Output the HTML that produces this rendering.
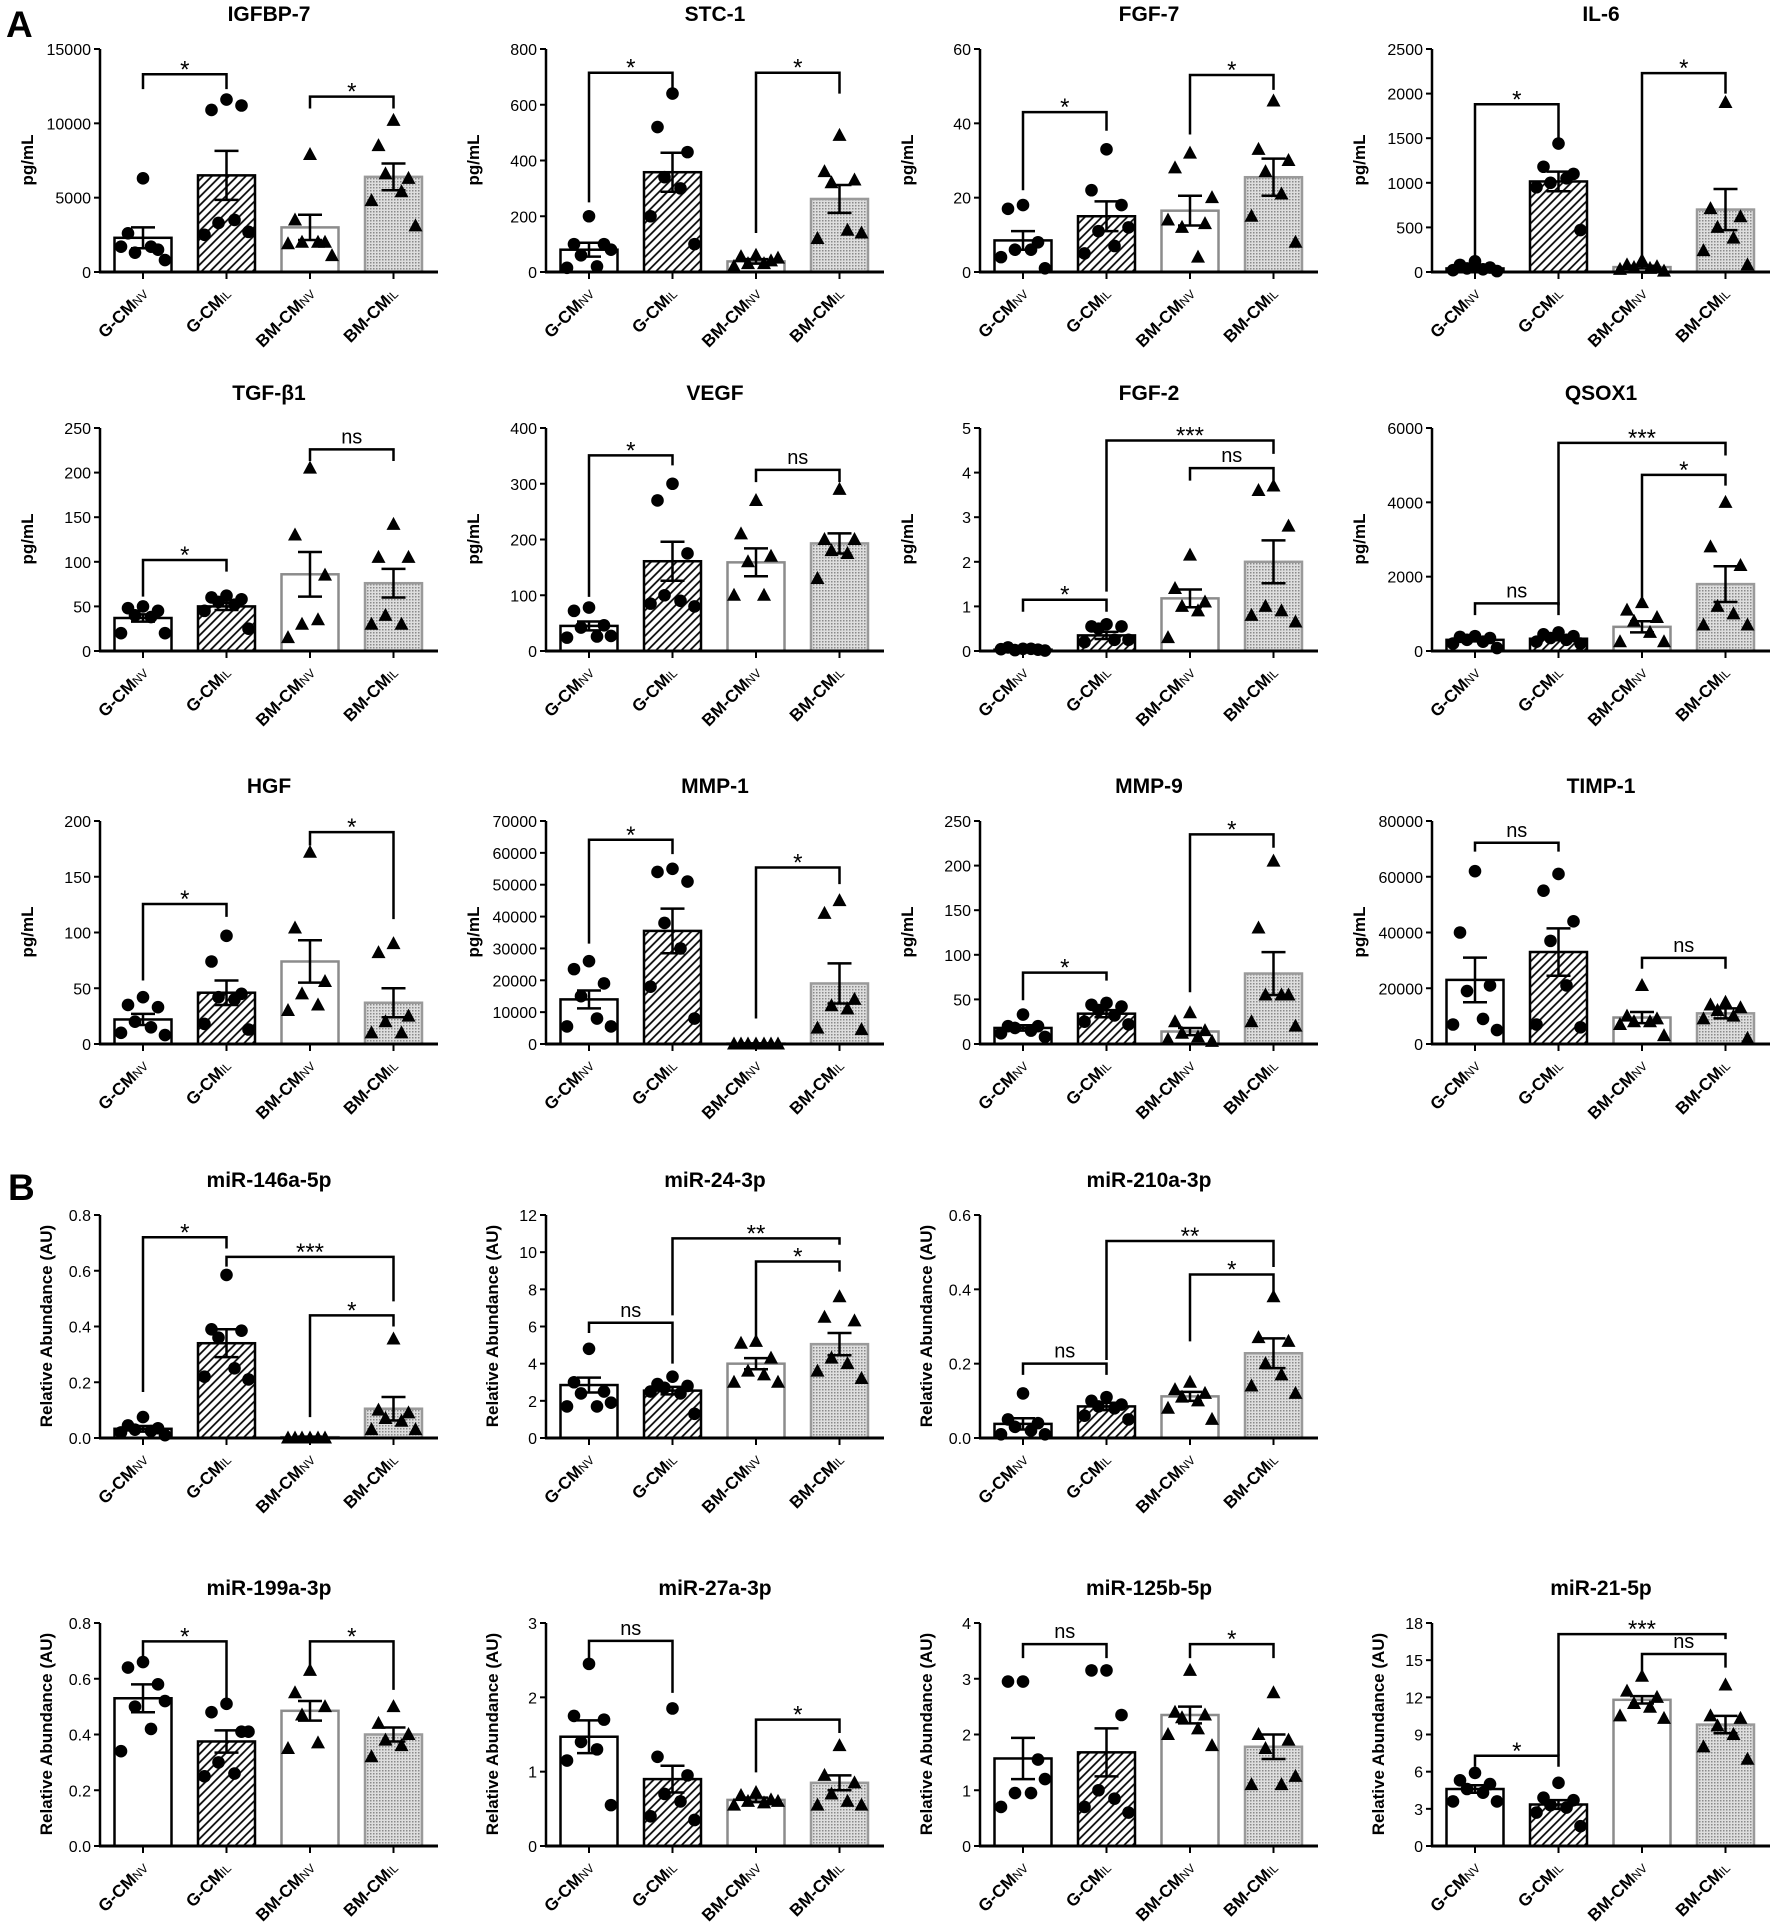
<!DOCTYPE html>
<html><head><meta charset="utf-8">
<style>
html,body{margin:0;padding:0;background:#fff}
svg{display:block}
text{font-family:"Liberation Sans",Arial,sans-serif;fill:#000}
.ti{font-weight:bold;font-size:21px;text-anchor:middle}
.yl{font-weight:bold;font-size:17px;text-anchor:middle}
.tk{font-size:16px;text-anchor:end}
.xl{font-weight:bold;font-size:17px;text-anchor:end}
.sb{font-weight:normal;font-size:12px}
.bl{font-size:24px;text-anchor:middle}
.bn{font-size:20px}
.big{font-weight:bold;font-size:37px}
</style></head>
<body>
<svg width="1772" height="1928" viewBox="0 0 1772 1928" xmlns="http://www.w3.org/2000/svg">
<defs>
<pattern id="hatch" width="6" height="6" patternUnits="userSpaceOnUse" patternTransform="rotate(45)"><rect width="6" height="6" fill="#fff"/><line x1="1" y1="0" x2="1" y2="6" stroke="#000" stroke-width="1.7"/></pattern>
<pattern id="dots" width="3" height="3" patternUnits="userSpaceOnUse"><rect width="3" height="3" fill="#dedede"/><rect width="1.5" height="1.5" fill="#8a8a8a"/></pattern>
</defs>
<text class="big" x="6" y="37">A</text>
<text class="big" x="8" y="1200">B</text>

<g id="p0" transform="translate(100,49)"><g class="sh"></g>
<text class="ti" x="169" y="-28">IGFBP-7</text>
<text class="yl" transform="translate(-67,111) rotate(-90)">pg/mL</text>
<text class="tk">0</text><text class="tk">5000</text><text class="tk">10000</text><text class="tk">15000</text>
<text class="xl" transform="translate(49,246) rotate(-45)">G-CM<tspan class="sb">NV</tspan></text>
<text class="xl" transform="translate(132,246) rotate(-45)">G-CM<tspan class="sb">IL</tspan></text>
<text class="xl" transform="translate(216,246) rotate(-45)">BM-CM<tspan class="sb">NV</tspan></text>
<text class="xl" transform="translate(299,246) rotate(-45)">BM-CM<tspan class="sb">IL</tspan></text>
<text class="bl">*</text><text class="bl">*</text></g>

<g id="p1" transform="translate(546,49)"><g class="sh"></g>
<text class="ti" x="169" y="-28">STC-1</text>
<text class="yl" transform="translate(-67,111) rotate(-90)">pg/mL</text>
<text class="tk">0</text><text class="tk">200</text><text class="tk">400</text><text class="tk">600</text><text class="tk">800</text>
<text class="xl" transform="translate(49,246) rotate(-45)">G-CM<tspan class="sb">NV</tspan></text>
<text class="xl" transform="translate(132,246) rotate(-45)">G-CM<tspan class="sb">IL</tspan></text>
<text class="xl" transform="translate(216,246) rotate(-45)">BM-CM<tspan class="sb">NV</tspan></text>
<text class="xl" transform="translate(299,246) rotate(-45)">BM-CM<tspan class="sb">IL</tspan></text>
<text class="bl">*</text><text class="bl">*</text></g>

<g id="p2" transform="translate(980,49)"><g class="sh"></g>
<text class="ti" x="169" y="-28">FGF-7</text>
<text class="yl" transform="translate(-67,111) rotate(-90)">pg/mL</text>
<text class="tk">0</text><text class="tk">20</text><text class="tk">40</text><text class="tk">60</text>
<text class="xl" transform="translate(49,246) rotate(-45)">G-CM<tspan class="sb">NV</tspan></text>
<text class="xl" transform="translate(132,246) rotate(-45)">G-CM<tspan class="sb">IL</tspan></text>
<text class="xl" transform="translate(216,246) rotate(-45)">BM-CM<tspan class="sb">NV</tspan></text>
<text class="xl" transform="translate(299,246) rotate(-45)">BM-CM<tspan class="sb">IL</tspan></text>
<text class="bl">*</text><text class="bl">*</text></g>

<g id="p3" transform="translate(1432,49)"><g class="sh"></g>
<text class="ti" x="169" y="-28">IL-6</text>
<text class="yl" transform="translate(-67,111) rotate(-90)">pg/mL</text>
<text class="tk">0</text><text class="tk">500</text><text class="tk">1000</text><text class="tk">1500</text><text class="tk">2000</text><text class="tk">2500</text>
<text class="xl" transform="translate(49,246) rotate(-45)">G-CM<tspan class="sb">NV</tspan></text>
<text class="xl" transform="translate(132,246) rotate(-45)">G-CM<tspan class="sb">IL</tspan></text>
<text class="xl" transform="translate(216,246) rotate(-45)">BM-CM<tspan class="sb">NV</tspan></text>
<text class="xl" transform="translate(299,246) rotate(-45)">BM-CM<tspan class="sb">IL</tspan></text>
<text class="bl">*</text><text class="bl">*</text></g>

<g id="p4" transform="translate(100,428)"><g class="sh"></g>
<text class="ti" x="169" y="-28">TGF-β1</text>
<text class="yl" transform="translate(-67,111) rotate(-90)">pg/mL</text>
<text class="tk">0</text><text class="tk">50</text><text class="tk">100</text><text class="tk">150</text><text class="tk">200</text><text class="tk">250</text>
<text class="xl" transform="translate(49,246) rotate(-45)">G-CM<tspan class="sb">NV</tspan></text>
<text class="xl" transform="translate(132,246) rotate(-45)">G-CM<tspan class="sb">IL</tspan></text>
<text class="xl" transform="translate(216,246) rotate(-45)">BM-CM<tspan class="sb">NV</tspan></text>
<text class="xl" transform="translate(299,246) rotate(-45)">BM-CM<tspan class="sb">IL</tspan></text>
<text class="bl">*</text><text class="bl bn">ns</text></g>

<g id="p5" transform="translate(546,428)"><g class="sh"></g>
<text class="ti" x="169" y="-28">VEGF</text>
<text class="yl" transform="translate(-67,111) rotate(-90)">pg/mL</text>
<text class="tk">0</text><text class="tk">100</text><text class="tk">200</text><text class="tk">300</text><text class="tk">400</text>
<text class="xl" transform="translate(49,246) rotate(-45)">G-CM<tspan class="sb">NV</tspan></text>
<text class="xl" transform="translate(132,246) rotate(-45)">G-CM<tspan class="sb">IL</tspan></text>
<text class="xl" transform="translate(216,246) rotate(-45)">BM-CM<tspan class="sb">NV</tspan></text>
<text class="xl" transform="translate(299,246) rotate(-45)">BM-CM<tspan class="sb">IL</tspan></text>
<text class="bl">*</text><text class="bl bn">ns</text></g>

<g id="p6" transform="translate(980,428)"><g class="sh"></g>
<text class="ti" x="169" y="-28">FGF-2</text>
<text class="yl" transform="translate(-67,111) rotate(-90)">pg/mL</text>
<text class="tk">0</text><text class="tk">1</text><text class="tk">2</text><text class="tk">3</text><text class="tk">4</text><text class="tk">5</text>
<text class="xl" transform="translate(49,246) rotate(-45)">G-CM<tspan class="sb">NV</tspan></text>
<text class="xl" transform="translate(132,246) rotate(-45)">G-CM<tspan class="sb">IL</tspan></text>
<text class="xl" transform="translate(216,246) rotate(-45)">BM-CM<tspan class="sb">NV</tspan></text>
<text class="xl" transform="translate(299,246) rotate(-45)">BM-CM<tspan class="sb">IL</tspan></text>
<text class="bl">*</text><text class="bl">***</text><text class="bl bn">ns</text></g>

<g id="p7" transform="translate(1432,428)"><g class="sh"></g>
<text class="ti" x="169" y="-28">QSOX1</text>
<text class="yl" transform="translate(-67,111) rotate(-90)">pg/mL</text>
<text class="tk">0</text><text class="tk">2000</text><text class="tk">4000</text><text class="tk">6000</text>
<text class="xl" transform="translate(49,246) rotate(-45)">G-CM<tspan class="sb">NV</tspan></text>
<text class="xl" transform="translate(132,246) rotate(-45)">G-CM<tspan class="sb">IL</tspan></text>
<text class="xl" transform="translate(216,246) rotate(-45)">BM-CM<tspan class="sb">NV</tspan></text>
<text class="xl" transform="translate(299,246) rotate(-45)">BM-CM<tspan class="sb">IL</tspan></text>
<text class="bl bn">ns</text><text class="bl">***</text><text class="bl">*</text></g>

<g id="p8" transform="translate(100,821)"><g class="sh"></g>
<text class="ti" x="169" y="-28">HGF</text>
<text class="yl" transform="translate(-67,111) rotate(-90)">pg/mL</text>
<text class="tk">0</text><text class="tk">50</text><text class="tk">100</text><text class="tk">150</text><text class="tk">200</text>
<text class="xl" transform="translate(49,246) rotate(-45)">G-CM<tspan class="sb">NV</tspan></text>
<text class="xl" transform="translate(132,246) rotate(-45)">G-CM<tspan class="sb">IL</tspan></text>
<text class="xl" transform="translate(216,246) rotate(-45)">BM-CM<tspan class="sb">NV</tspan></text>
<text class="xl" transform="translate(299,246) rotate(-45)">BM-CM<tspan class="sb">IL</tspan></text>
<text class="bl">*</text><text class="bl">*</text></g>

<g id="p9" transform="translate(546,821)"><g class="sh"></g>
<text class="ti" x="169" y="-28">MMP-1</text>
<text class="yl" transform="translate(-67,111) rotate(-90)">pg/mL</text>
<text class="tk">0</text><text class="tk">10000</text><text class="tk">20000</text><text class="tk">30000</text><text class="tk">40000</text><text class="tk">50000</text><text class="tk">60000</text><text class="tk">70000</text>
<text class="xl" transform="translate(49,246) rotate(-45)">G-CM<tspan class="sb">NV</tspan></text>
<text class="xl" transform="translate(132,246) rotate(-45)">G-CM<tspan class="sb">IL</tspan></text>
<text class="xl" transform="translate(216,246) rotate(-45)">BM-CM<tspan class="sb">NV</tspan></text>
<text class="xl" transform="translate(299,246) rotate(-45)">BM-CM<tspan class="sb">IL</tspan></text>
<text class="bl">*</text><text class="bl">*</text></g>

<g id="p10" transform="translate(980,821)"><g class="sh"></g>
<text class="ti" x="169" y="-28">MMP-9</text>
<text class="yl" transform="translate(-67,111) rotate(-90)">pg/mL</text>
<text class="tk">0</text><text class="tk">50</text><text class="tk">100</text><text class="tk">150</text><text class="tk">200</text><text class="tk">250</text>
<text class="xl" transform="translate(49,246) rotate(-45)">G-CM<tspan class="sb">NV</tspan></text>
<text class="xl" transform="translate(132,246) rotate(-45)">G-CM<tspan class="sb">IL</tspan></text>
<text class="xl" transform="translate(216,246) rotate(-45)">BM-CM<tspan class="sb">NV</tspan></text>
<text class="xl" transform="translate(299,246) rotate(-45)">BM-CM<tspan class="sb">IL</tspan></text>
<text class="bl">*</text><text class="bl">*</text></g>

<g id="p11" transform="translate(1432,821)"><g class="sh"></g>
<text class="ti" x="169" y="-28">TIMP-1</text>
<text class="yl" transform="translate(-67,111) rotate(-90)">pg/mL</text>
<text class="tk">0</text><text class="tk">20000</text><text class="tk">40000</text><text class="tk">60000</text><text class="tk">80000</text>
<text class="xl" transform="translate(49,246) rotate(-45)">G-CM<tspan class="sb">NV</tspan></text>
<text class="xl" transform="translate(132,246) rotate(-45)">G-CM<tspan class="sb">IL</tspan></text>
<text class="xl" transform="translate(216,246) rotate(-45)">BM-CM<tspan class="sb">NV</tspan></text>
<text class="xl" transform="translate(299,246) rotate(-45)">BM-CM<tspan class="sb">IL</tspan></text>
<text class="bl bn">ns</text><text class="bl bn">ns</text></g>

<g id="p12" transform="translate(100,1215)"><g class="sh"></g>
<text class="ti" x="169" y="-28">miR-146a-5p</text>
<text class="yl" transform="translate(-48,111) rotate(-90)">Relative Abundance (AU)</text>
<text class="tk">0.0</text><text class="tk">0.2</text><text class="tk">0.4</text><text class="tk">0.6</text><text class="tk">0.8</text>
<text class="xl" transform="translate(49,246) rotate(-45)">G-CM<tspan class="sb">NV</tspan></text>
<text class="xl" transform="translate(132,246) rotate(-45)">G-CM<tspan class="sb">IL</tspan></text>
<text class="xl" transform="translate(216,246) rotate(-45)">BM-CM<tspan class="sb">NV</tspan></text>
<text class="xl" transform="translate(299,246) rotate(-45)">BM-CM<tspan class="sb">IL</tspan></text>
<text class="bl">*</text><text class="bl">***</text><text class="bl">*</text></g>

<g id="p13" transform="translate(546,1215)"><g class="sh"></g>
<text class="ti" x="169" y="-28">miR-24-3p</text>
<text class="yl" transform="translate(-48,111) rotate(-90)">Relative Abundance (AU)</text>
<text class="tk">0</text><text class="tk">2</text><text class="tk">4</text><text class="tk">6</text><text class="tk">8</text><text class="tk">10</text><text class="tk">12</text>
<text class="xl" transform="translate(49,246) rotate(-45)">G-CM<tspan class="sb">NV</tspan></text>
<text class="xl" transform="translate(132,246) rotate(-45)">G-CM<tspan class="sb">IL</tspan></text>
<text class="xl" transform="translate(216,246) rotate(-45)">BM-CM<tspan class="sb">NV</tspan></text>
<text class="xl" transform="translate(299,246) rotate(-45)">BM-CM<tspan class="sb">IL</tspan></text>
<text class="bl bn">ns</text><text class="bl">**</text><text class="bl">*</text></g>

<g id="p14" transform="translate(980,1215)"><g class="sh"></g>
<text class="ti" x="169" y="-28">miR-210a-3p</text>
<text class="yl" transform="translate(-48,111) rotate(-90)">Relative Abundance (AU)</text>
<text class="tk">0.0</text><text class="tk">0.2</text><text class="tk">0.4</text><text class="tk">0.6</text>
<text class="xl" transform="translate(49,246) rotate(-45)">G-CM<tspan class="sb">NV</tspan></text>
<text class="xl" transform="translate(132,246) rotate(-45)">G-CM<tspan class="sb">IL</tspan></text>
<text class="xl" transform="translate(216,246) rotate(-45)">BM-CM<tspan class="sb">NV</tspan></text>
<text class="xl" transform="translate(299,246) rotate(-45)">BM-CM<tspan class="sb">IL</tspan></text>
<text class="bl bn">ns</text><text class="bl">**</text><text class="bl">*</text></g>

<g id="p15" transform="translate(100,1623)"><g class="sh"></g>
<text class="ti" x="169" y="-28">miR-199a-3p</text>
<text class="yl" transform="translate(-48,111) rotate(-90)">Relative Abundance (AU)</text>
<text class="tk">0.0</text><text class="tk">0.2</text><text class="tk">0.4</text><text class="tk">0.6</text><text class="tk">0.8</text>
<text class="xl" transform="translate(49,246) rotate(-45)">G-CM<tspan class="sb">NV</tspan></text>
<text class="xl" transform="translate(132,246) rotate(-45)">G-CM<tspan class="sb">IL</tspan></text>
<text class="xl" transform="translate(216,246) rotate(-45)">BM-CM<tspan class="sb">NV</tspan></text>
<text class="xl" transform="translate(299,246) rotate(-45)">BM-CM<tspan class="sb">IL</tspan></text>
<text class="bl">*</text><text class="bl">*</text></g>

<g id="p16" transform="translate(546,1623)"><g class="sh"></g>
<text class="ti" x="169" y="-28">miR-27a-3p</text>
<text class="yl" transform="translate(-48,111) rotate(-90)">Relative Abundance (AU)</text>
<text class="tk">0</text><text class="tk">1</text><text class="tk">2</text><text class="tk">3</text>
<text class="xl" transform="translate(49,246) rotate(-45)">G-CM<tspan class="sb">NV</tspan></text>
<text class="xl" transform="translate(132,246) rotate(-45)">G-CM<tspan class="sb">IL</tspan></text>
<text class="xl" transform="translate(216,246) rotate(-45)">BM-CM<tspan class="sb">NV</tspan></text>
<text class="xl" transform="translate(299,246) rotate(-45)">BM-CM<tspan class="sb">IL</tspan></text>
<text class="bl bn">ns</text><text class="bl">*</text></g>

<g id="p17" transform="translate(980,1623)"><g class="sh"></g>
<text class="ti" x="169" y="-28">miR-125b-5p</text>
<text class="yl" transform="translate(-48,111) rotate(-90)">Relative Abundance (AU)</text>
<text class="tk">0</text><text class="tk">1</text><text class="tk">2</text><text class="tk">3</text><text class="tk">4</text>
<text class="xl" transform="translate(49,246) rotate(-45)">G-CM<tspan class="sb">NV</tspan></text>
<text class="xl" transform="translate(132,246) rotate(-45)">G-CM<tspan class="sb">IL</tspan></text>
<text class="xl" transform="translate(216,246) rotate(-45)">BM-CM<tspan class="sb">NV</tspan></text>
<text class="xl" transform="translate(299,246) rotate(-45)">BM-CM<tspan class="sb">IL</tspan></text>
<text class="bl bn">ns</text><text class="bl">*</text></g>

<g id="p18" transform="translate(1432,1623)"><g class="sh"></g>
<text class="ti" x="169" y="-28">miR-21-5p</text>
<text class="yl" transform="translate(-48,111) rotate(-90)">Relative Abundance (AU)</text>
<text class="tk">0</text><text class="tk">3</text><text class="tk">6</text><text class="tk">9</text><text class="tk">12</text><text class="tk">15</text><text class="tk">18</text>
<text class="xl" transform="translate(49,246) rotate(-45)">G-CM<tspan class="sb">NV</tspan></text>
<text class="xl" transform="translate(132,246) rotate(-45)">G-CM<tspan class="sb">IL</tspan></text>
<text class="xl" transform="translate(216,246) rotate(-45)">BM-CM<tspan class="sb">NV</tspan></text>
<text class="xl" transform="translate(299,246) rotate(-45)">BM-CM<tspan class="sb">IL</tspan></text>
<text class="bl">*</text><text class="bl">***</text><text class="bl bn">ns</text></g>
</svg>
<script>
var P=[
{max:15000,m:[2300,6500,3000,6400],s:[700,1650,850,900],p:[[6300,2600,1500,1300,1700,1700,800],[11600,10900,11200,3300,3500,2500,2700],[7900,3500,2000,2000,2000,1900,1100],[10200,8500,6300,6600,5400,4800,3100]],b:[[0,1,13300,12300,12300],[2,3,11800,11000,11000]]},
{max:800,m:[80,358,38,262],s:[25,70,8,50],p:[[200,100,100,60,20,15,80],[640,520,430,340,300,200,100],[60,55,40,30,30,20,50],[490,360,330,320,150,120,140]],b:[[0,1,715,250,640],[2,3,715,140,640]]},
{max:60,m:[8.5,15,16.5,25.5],s:[2.5,4,4,5],p:[[18,17,8,6,6,4,1],[33,22,18,11,7,5,12],[32,28,13,12,4,14,20],[46,33,30,27,21,15,8]],b:[[0,1,43,22,38],[2,3,53,37,49]]},
{max:2500,m:[40,1015,55,700],s:[15,110,15,230],p:[[120,80,50,40,30,20,10],[1440,1180,1100,1000,1050,950,470],[130,80,60,50,40,30,10],[1900,710,620,500,380,240,80]],b:[[0,1,1880,150,1500],[2,3,2230,150,2000]]},
{max:250,m:[37,50,86,76],s:[4,4,25,16],p:[[50,48,45,40,38,20,20],[62,60,58,55,52,45,25],[205,130,85,30,35,15],[142,105,105,40,30,30]],b:[[0,1,102,61,89],[2,3,226,213,213]]},
{max:400,m:[45,161,159,193],s:[8,35,25,18],p:[[78,72,46,42,26,24,27],[300,270,175,100,90,85,80],[270,210,170,160,100,100],[290,200,200,180,175,130]],b:[[0,1,351,97,333],[2,3,325,303,303]]},
{max:5,m:[0.03,0.35,1.18,2.0],s:[0.01,0.08,0.2,0.48],p:[[0.05,0.08,0.03,0.02,0.05,0.04,0.01],[0.6,0.55,0.55,0.5,0.25,0.2,0.25],[2.15,1.4,1.1,1.0,0.9,0.3],[3.7,3.6,2.8,1.0,0.9,0.8,0.65]],b:[[0,1,1.15,0.88,0.88],[1,3,4.72,1.33,4.42],[2,3,4.1,3.82,3.82]]},
{max:6000,m:[300,330,650,1800],s:[40,40,150,480],p:[[400,380,350,300,250,200,80],[500,450,400,350,300,250,200],[1300,1100,900,800,500,250,250],[4000,2800,2300,1200,1000,700,700]],b:[[0,1,1280,965,965],[1,3,5600,1230,5260],[2,3,4740,1450,4450]]},
{max:200,m:[22,46,74,37],s:[5,11,19,13],p:[[42,35,33,20,15,10,8],[97,74,45,42,40,18,13],[172,104,56,45,35,30],[90,82,25,20,10,10]],b:[[0,1,125.6,57,114],[2,3,190,178,112]]},
{max:70000,m:[14000,35500,150,19000],s:[2800,7000,50,6300],p:[[26000,23500,19000,15000,8000,5500,5500],[55000,54000,51000,38000,30000,18000,8000],[0,0,0,0,0,0,0],[45000,41000,14000,12000,11000,5000,4500]],b:[[0,1,64100,31500,59600],[2,3,55400,8000,50200]]},
{max:250,m:[18,34,14,79],s:[3,4,4,24],p:[[33,20,20,18,15,12,8],[46,44,42,38,32,25,22],[35,25,15,12,8,5,3],[205,130,55,55,55,25,20]],b:[[0,1,80,49,71],[2,3,235,58,220]]},
{max:80000,m:[23000,33000,9500,11000],s:[8000,8500,2000,1800],p:[[62000,40000,21000,19000,9000,7000,5000],[61000,55000,44000,37000,21000,7000,6000],[21000,10000,9000,8000,8000,7000,3000],[15000,14000,13000,12000,10000,9000,2000]],b:[[0,1,72200,69000,69000],[2,3,30900,27000,27000]]},
{max:0.8,m:[0.033,0.34,0.003,0.105],s:[0.01,0.05,0.002,0.042],p:[[0.075,0.045,0.035,0.03,0.025,0.02,0.01],[0.585,0.39,0.385,0.36,0.25,0.22,0.21],[0,0,0,0,0,0],[0.355,0.1,0.09,0.07,0.06,0.03,0.03]],b:[[0,1,0.72,0.165,0.68],[1,3,0.65,0.615,0.49],[2,3,0.44,0.075,0.40]]},
{max:12,m:[2.85,2.55,4.0,5.05],s:[0.4,0.2,0.3,0.6],p:[[4.8,3.0,2.5,2.4,1.7,1.7,1.9],[3.3,2.9,2.8,2.7,2.4,2.5,1.3],[5.2,5.1,4.3,3.6,3.4,3.0,3.0],[7.6,6.5,6.3,4.3,4.0,3.6,3.2]],b:[[0,1,6.2,5.65,4.0],[1,3,10.74,6.6,10.4],[2,3,9.5,5.25,8.95]]},
{max:0.6,m:[0.038,0.085,0.112,0.228],s:[0.015,0.01,0.012,0.04],p:[[0.12,0.05,0.04,0.03,0.02,0.01,0.01],[0.11,0.1,0.09,0.085,0.08,0.06,0.05],[0.15,0.13,0.12,0.11,0.1,0.08,0.05],[0.38,0.27,0.26,0.2,0.17,0.14,0.12]],b:[[0,1,0.2,0.17,0.17],[1,3,0.53,0.21,0.46],[2,3,0.44,0.26,0.39]]},
{max:0.8,m:[0.53,0.375,0.485,0.40],s:[0.05,0.04,0.035,0.025],p:[[0.66,0.64,0.58,0.5,0.42,0.34,0.52],[0.51,0.48,0.41,0.3,0.26,0.25,0.41],[0.63,0.55,0.5,0.47,0.37,0.35],[0.5,0.44,0.4,0.38,0.36,0.32]],b:[[0,1,0.734,0.668,0.51],[2,3,0.734,0.63,0.56]]},
{max:3,m:[1.47,0.9,0.62,0.85],s:[0.22,0.18,0.03,0.1],p:[[2.45,1.75,1.7,1.4,1.3,1.15,0.55],[1.85,1.2,0.95,0.7,0.6,0.4,0.35],[0.72,0.68,0.62,0.6,0.58,0.55,0.6],[1.35,0.95,0.85,0.7,0.6,0.55,0.55]],b:[[0,1,2.76,2.47,2.06],[2,3,1.7,0.99,1.52]]},
{max:4,m:[1.57,1.68,2.35,1.78],s:[0.37,0.43,0.15,0.22],p:[[2.95,2.95,1.55,0.95,0.95,0.7,1.2],[3.15,3.15,2.35,1.0,0.85,0.7,0.6],[3.15,2.4,2.35,2.3,2.1,2.0,1.8],[2.75,2.0,1.9,1.75,1.1,1.1,1.25]],b:[[0,1,3.62,3.37,3.37],[2,3,3.62,3.37,3.37]]},
{max:18,m:[4.6,3.35,11.8,9.8],s:[0.3,0.35,0.3,0.7],p:[[5.9,5.3,5.0,4.6,4.3,3.6,3.6],[5.1,3.9,3.7,3.3,3.1,2.7,1.6],[13.7,12.5,12.0,11.5,11.2,10.5,10.3],[13.0,10.5,10.3,9.7,9.0,8.0,7.0]],b:[[0,1,7.28,6.4,6.4],[1,3,17.1,7.3,16.7],[2,3,15.5,13.7,14.4]]}
];
var H=223,W=338,OFF=[0,-15,15,-8,8,-22,22];
var FILL=['#fff','url(#hatch)','#fff','url(#dots)'],STR=['#000','#000','#8c8c8c','#9a9a9a'];
function cx(i){return 43+83.5*i;}
P.forEach(function(d,k){
  var g=document.getElementById('p'+k);
  function Y(v){return H-v/d.max*H;}
  var s='';
  for(var i=0;i<4;i++){
    var yt=Y(d.m[i]);
    s+='<rect x="'+(cx(i)-28.5)+'" y="'+yt+'" width="57" height="'+Math.max(0,H-yt)+'" fill="'+FILL[i]+'" stroke="'+STR[i]+'" stroke-width="2.5"/>';
  }
  for(var i=0;i<4;i++){
    d.p[i].forEach(function(v,j){
      var x=cx(i)+OFF[j%7],y=Y(v);
      if(i<2) s+='<circle cx="'+x+'" cy="'+y+'" r="6.3" fill="#000"/>';
      else s+='<polygon points="'+x+','+(y-7.5)+' '+(x-7)+','+(y+5.5)+' '+(x+7)+','+(y+5.5)+'" fill="#000"/>';
    });
  }
  for(var i=0;i<4;i++){
    var x=cx(i),a=Y(d.m[i]+d.s[i]),b=Y(d.m[i]-d.s[i]);
    s+='<line x1="'+x+'" y1="'+a+'" x2="'+x+'" y2="'+b+'" stroke="#000" stroke-width="2.5"/>';
    s+='<line x1="'+(x-12)+'" y1="'+a+'" x2="'+(x+12)+'" y2="'+a+'" stroke="#000" stroke-width="2.5"/>';
    s+='<line x1="'+(x-12)+'" y1="'+b+'" x2="'+(x+12)+'" y2="'+b+'" stroke="#000" stroke-width="2.5"/>';
  }
  s+='<line x1="0" y1="0" x2="0" y2="'+(H+1)+'" stroke="#000" stroke-width="2.5"/>';
  s+='<line x1="-1" y1="'+H+'" x2="'+W+'" y2="'+H+'" stroke="#000" stroke-width="3"/>';
  var tks=g.querySelectorAll('.tk'),n=tks.length-1;
  for(var i=0;i<=n;i++){var y=H-i*H/n;s+='<line x1="-6" y1="'+y+'" x2="0" y2="'+y+'" stroke="#000" stroke-width="2"/>';
    tks[i].setAttribute('x',-9);tks[i].setAttribute('y',y+6);}
  for(var i=0;i<4;i++){s+='<line x1="'+cx(i)+'" y1="'+H+'" x2="'+cx(i)+'" y2="'+(H+7)+'" stroke="#000" stroke-width="2"/>';}
  var bls=g.querySelectorAll('.bl');
  d.b.forEach(function(b,j){
    var x1=cx(b[0]),x2=cx(b[1]),y=Y(b[2]);
    s+='<polyline points="'+x1+','+Y(b[3])+' '+x1+','+y+' '+x2+','+y+' '+x2+','+Y(b[4])+'" fill="none" stroke="#000" stroke-width="2.5"/>';
    var t=bls[j];
    if(t){t.setAttribute('x',(x1+x2)/2);t.setAttribute('y',t.textContent=='ns'?y-6:y+3);}
  });
  g.querySelector('.sh').innerHTML=s;
});
</script>
</body></html>
